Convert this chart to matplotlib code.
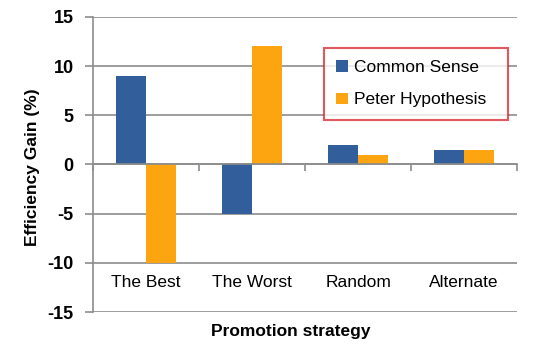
import matplotlib
matplotlib.use('Agg')
import matplotlib.pyplot as plt
import numpy as np

plt.rcParams['font.family'] = ['Liberation Sans', 'DejaVu Sans']

categories = ['The Best', 'The Worst', 'Random', 'Alternate']
common_sense = [9, -5, 2, 1.5]
peter_hypothesis = [-10, 12, 1, 1.5]
yticks = [-15, -10, -5, 0, 5, 10, 15]

blue = '#325F9C'
orange = '#FCA510'
grid = '#8C8C8C'

fig = plt.figure(figsize=(5.45, 3.53), dpi=100)
ax = fig.add_axes([0.171, 0.116, 0.778, 0.836])

x = np.arange(len(categories))
w = 0.285
ax.bar(x - w / 2, common_sense, w, color=blue, label='Common Sense', zorder=3)
ax.bar(x + w / 2, peter_hypothesis, w, color=orange, label='Peter Hypothesis', zorder=3)

ax.set_xlim(-0.5, len(categories) - 0.5)
ax.set_ylim(-15, 15)
ax.set_yticks(yticks)
ax.set_yticklabels([str(v) for v in yticks], fontsize=13, fontweight='bold')
ax.yaxis.grid(True, color=grid, linewidth=1.2, zorder=0)
ax.tick_params(axis='y', length=6, color=grid, width=1.2, pad=8)

# category axis crossing at zero, ticks at category boundaries
for s in ['top', 'right']:
    ax.spines[s].set_visible(False)
ax.spines['left'].set_color(grid)
ax.spines['left'].set_linewidth(1.2)
ax.spines['bottom'].set_position(('data', 0))
ax.spines['bottom'].set_color(grid)
ax.spines['bottom'].set_linewidth(1.2)
ax.spines['bottom'].set_zorder(4)
ax.set_xticks(np.arange(len(categories) + 1) - 0.5)
ax.set_xticklabels([])
ax.tick_params(axis='x', length=5, color=grid, width=1.2, direction='out')

for i, c in enumerate(categories):
    ax.text(i, -12, c, ha='center', va='center', fontsize=12.5)

ax.set_ylabel('Efficiency Gain (%)', fontsize=12.5, fontweight='bold')
ax.yaxis.set_label_coords(-0.125, 0.49)
fig.text(0.534, 0.06, 'Promotion strategy', ha='center', va='center',
         fontsize=12.5, fontweight='bold')

leg = ax.legend(loc='upper left', bbox_to_anchor=(0.545, 0.895, 0.434, 0.0),
                mode='expand', fontsize=12.5,
                frameon=True, fancybox=False, handlelength=0.65, handleheight=0.65,
                handletextpad=0.35, labelspacing=1.0, borderpad=0.7,
                borderaxespad=0)
leg.get_frame().set_edgecolor('#D62E35')
leg.get_frame().set_linewidth(1.5)

fig.savefig('out.png', dpi=100)
